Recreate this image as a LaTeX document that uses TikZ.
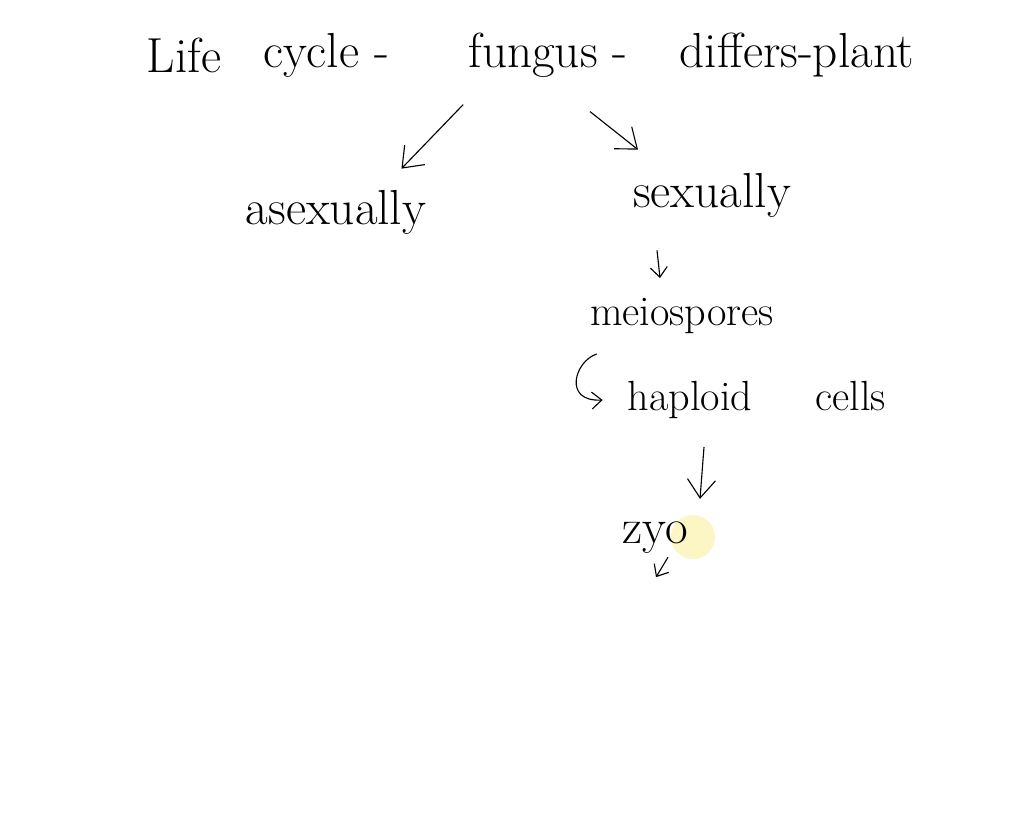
\documentclass[tikz,border=0pt]{standalone}
\usepackage{tikz}
\usetikzlibrary{positioning, arrows.meta, calc}

\definecolor{pointer}{RGB}{252,246,196}
\tikzset{
  word/.style={inner sep=0pt, font=\fontsize{30}{36}\selectfont},
  bigword/.style={word, font=\fontsize{35}{40}\selectfont},
  arr/.style={-{Straight Barb[length=13pt,width=20pt]}, line width=0.8pt},
  arrsmall/.style={-{Straight Barb[length=7pt,width=12pt]}, line width=0.8pt},
}

\begin{document}
\begin{tikzpicture}[x=0.025cm,y=-0.025cm]
\fill[white] (0,0) rectangle (1024,830); % page
\fill[pointer] (693,537) circle (22); % cursor
% title line
\node[bigword] (life) at (184,55) {Life};
\node[bigword] (cycle) at (326,55) {cycle -};
\node[bigword] (fungus) at (548,55) {fungus -};
\node[bigword] (differs) at (797,55) {differs-plant};
% branches
\node[bigword] (asexually) at (336,212) {asexually};
\node[bigword] (sexually) at (712,195) {sexually};
\node[word] (meiospores) at (682,316) {meiospores};
\node[word] (haploid) at (757,400) {haploid\hspace{45pt}cells};
\node[bigword] (zyo) at (655,538) {zyo};
\draw[arr] ($(fungus.south west)+(-5,27)$) -- ($(asexually.north east)+(-25,-21)$);
\draw[arr] ($(fungus.south)+(42,34)$) -- ($(sexually.north)+(-74,-23)$);
\draw[arrsmall] ($(sexually.south)+(-55,33)$) -- ($(meiospores.north)+(-22,-20)$);
\draw[arrsmall] ($(meiospores.south west)+(7,20)$) .. controls +(-22,7) and +(-40,2) .. ($(haploid.west)+(-25,0)$);
\draw[arr] ($(haploid.south)+(-53,28)$) -- ($(zyo.north)+(45,-23)$);
\draw[arrsmall] ($(zyo.south)+(13,3)$) -- ($(zyo.south)+(1,23)$);
\end{tikzpicture}
\end{document}
